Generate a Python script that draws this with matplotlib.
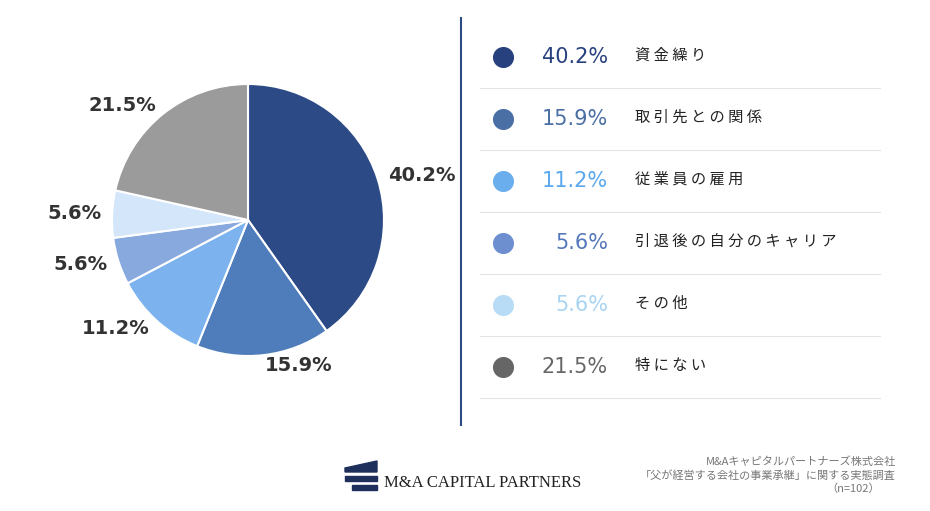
import numpy as np
import matplotlib.pyplot as plt

plt.rcParams['font.family'] = ['Noto Sans CJK JP']

labels = ['資金繰り', '取引先との関係', '従業員の雇用', '引退後の自分のキャリア', 'その他', '特にない']
values = [40.2, 15.9, 11.2, 5.6, 5.6, 21.5]
pie_colors = ['#2c4a86', '#4f7cba', '#7cb3ef', '#88a9de', '#d3e6fa', '#9b9b9b']
dot_colors = ['#27417f', '#4a6fa5', '#6aaeee', '#6d8fd0', '#b8dcf6', '#666666']
text_colors = ['#27417f', '#4a6fa5', '#5aa8ee', '#5577bb', '#a8d4f4', '#666666']

W, H = 930, 511
fig = plt.figure(figsize=(9.3, 5.11), dpi=100)
fig.patch.set_facecolor('white')

# pie
cx, cy, r = 248, 220, 136
ax = fig.add_axes([(cx - r) / W, (H - cy - r) / H, 2 * r / W, 2 * r / H])
ax.pie(values, colors=pie_colors, startangle=90, counterclock=False,
       labels=[f'{v}%' for v in values], labeldistance=1.08,
       wedgeprops=dict(edgecolor='white', linewidth=1.5),
       textprops=dict(fontsize=14, fontweight='bold', color='#333333', family='DejaVu Sans'))
ax.set_aspect('auto')
ax.set_xlim(-1, 1)
ax.set_ylim(-1, 1)

# overlay axes in pixel coords
ov = fig.add_axes([0, 0, 1, 1])
ov.set_xlim(0, W)
ov.set_ylim(H, 0)
ov.axis('off')
ov.plot([461, 461], [18, 425], color='#2c4a86', lw=1.5)

for i, (lab, v) in enumerate(zip(labels, values)):
    y = 57 + i * 62
    ov.scatter(503, y, s=200, color=dot_colors[i])
    ov.text(608, y, f'{v}%', ha='right', va='center', fontsize=15, color=text_colors[i],
            family='DejaVu Sans')
    ov.text(635, y - 2, ' '.join(lab), ha='left', va='center',
            fontsize=11, color='#222222')
    ov.plot([480, 880], [y + 31, y + 31], color='#e3e3e3', lw=0.8)

# footer
ov.text(896, 462, 'M&Aキャピタルパートナーズ株式会社', ha='right', va='center', fontsize=8, color='#777777')
ov.text(896, 476, '「父が経営する会社の事業承継」に関する実態調査', ha='right', va='center', fontsize=8, color='#777777')
ov.text(880, 489, '（n=102）', ha='right', va='center', fontsize=8, color='#777777')
ov.fill([345, 377, 377, 345], [468, 461, 472, 472], color='#1f2f5c')
ov.fill([345, 377, 377, 345], [476, 476, 481, 481], color='#1f2f5c')
ov.fill([352, 377, 377, 352], [485, 485, 490, 490], color='#1f2f5c')
ov.text(384, 483, 'M&A CAPITAL PARTNERS', ha='left', va='center', fontsize=12,
        family='Liberation Serif', color='#222222')

fig.savefig('out.png', dpi=100, facecolor='white')
